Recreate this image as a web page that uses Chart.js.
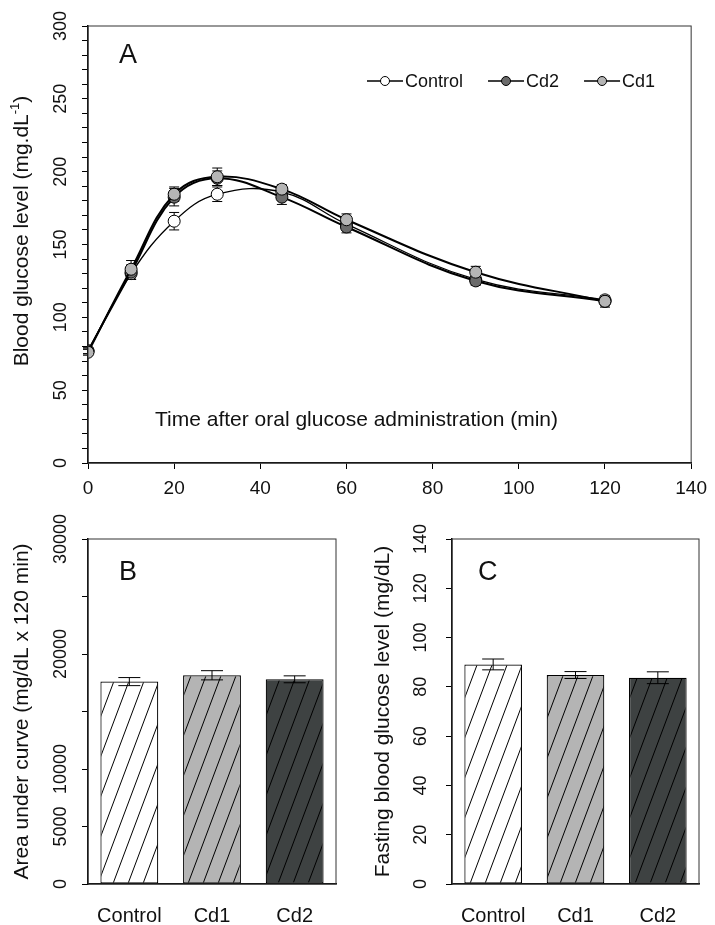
<!DOCTYPE html>
<html>
<head>
<meta charset="UTF-8" />
<script src="https://cdn.jsdelivr.net/npm/chart.js"></script>
<style>
  body { margin: 0; background: #fff; }
  .box { position: absolute; }
</style>
</head>
<body>
<div class="box" style="left:0;top:0;width:715px;height:505px"><canvas id="chartA"></canvas></div>
<div class="box" style="left:0;top:505px;width:357px;height:420px"><canvas id="chartB"></canvas></div>
<div class="box" style="left:357px;top:505px;width:358px;height:420px"><canvas id="chartC"></canvas></div>
<script>
const FONT = "'Liberation Sans', Arial, sans-serif";

// panel A: glucose tolerance curve
const times = [0, 10, 20, 30, 45, 60, 90, 120];
const control = [77, 130, 166, 184.5, 186, 164, 126, 112];
const controlErr = [2, 4, 6, 5, 4, 4, 3, 3];
const cd2 = [77, 131, 182.5, 195.5, 182.5, 162, 125, 111];
const cd2Err = [2, 5, 6, 5, 5, 4, 3, 3];
const cd1 = [76, 133, 184.5, 196.5, 188, 167, 131, 111];
const cd1Err = [2, 6, 5, 6, 3, 4, 4, 4];
const xTicksA = [0, 20, 40, 60, 80, 100, 120, 140];
const yTicksA = [0, 50, 100, 150, 200, 250, 300];

// panels B and C
const groups = ["Control", "Cd1", "Cd2"];
const auc = [17600, 18150, 17800];
const aucErr = [350, 400, 300];
const aucTicks = [0, 5000, 10000, 20000, 30000];
const fasting = [89.1, 84.8, 83.7];
const fastingErr = [2.2, 1.4, 2.4];
const fastingTicks = [0, 20, 40, 60, 80, 100, 120, 140];
const barColors = ["#ffffff", "#b4b4b4", "#3e4242"];

function hatch(fill) {
  const c = document.createElement("canvas");
  const w = 15, h = 40;
  c.width = w; c.height = h;
  const g = c.getContext("2d");
  g.fillStyle = fill;
  g.fillRect(0, 0, w, h);
  g.strokeStyle = "#000";
  g.lineWidth = 1;
  g.beginPath();
  [-w, 0, w].forEach(dx => {
    g.moveTo(dx - w, 2 * h);
    g.lineTo(dx + 2 * w, -h);
  });
  g.stroke();
  return g.createPattern(c, "repeat");
}

const frame = {
  id: "frame",
  afterDraw(chart) {
    const { ctx, chartArea: a } = chart;
    ctx.save();
    ctx.strokeStyle = "#333";
    ctx.lineWidth = 1;
    ctx.strokeRect(a.left, a.top, a.right - a.left, a.bottom - a.top);
    ctx.restore();
  }
};

function drawErr(chart, opts) {
  const ctx = chart.ctx, ys = chart.scales.y;
  ctx.save();
  ctx.strokeStyle = "#000";
  ctx.lineWidth = 1;
  chart.data.datasets.forEach((ds, i) => {
    const meta = chart.getDatasetMeta(i);
    meta.data.forEach((el, j) => {
      const v = ds.data[j];
      const val = typeof v === "object" ? v.y : v;
      const e = opts.errors[i][j];
      const top = ys.getPixelForValue(val + e), bot = ys.getPixelForValue(val - e);
      ctx.beginPath();
      ctx.moveTo(el.x, top); ctx.lineTo(el.x, bot);
      ctx.moveTo(el.x - opts.cap, top); ctx.lineTo(el.x + opts.cap, top);
      ctx.moveTo(el.x - opts.cap, bot); ctx.lineTo(el.x + opts.cap, bot);
      ctx.stroke();
    });
  });
  ctx.restore();
}

const errBars = {
  id: "errbars",
  beforeDatasetsDraw(chart, args, opts) { if (!opts.after) drawErr(chart, opts); },
  afterDatasetsDraw(chart, args, opts) { if (opts.after) drawErr(chart, opts); }
};

// rotated y tick labels, y title, panel letter, free texts
const decor = {
  id: "decor",
  afterDraw(chart, args, opts) {
    const ctx = chart.ctx, ys = chart.scales.y, a = chart.chartArea;
    ctx.save();
    ctx.fillStyle = "#111";
    ctx.textAlign = "center";
    ctx.textBaseline = "middle";
    ctx.font = `18px ${FONT}`;
    opts.yTicks.forEach(v => {
      ctx.save();
      ctx.translate(opts.tickX, ys.getPixelForValue(v));
      ctx.rotate(-Math.PI / 2);
      ctx.fillText(String(v), 0, 0);
      ctx.restore();
    });
    // axis title, optional superscript part
    const parts = opts.title;
    ctx.font = `21px ${FONT}`;
    const w0 = ctx.measureText(parts[0]).width;
    ctx.font = `13px ${FONT}`;
    const w1 = parts[1] ? ctx.measureText(parts[1]).width : 0;
    ctx.font = `21px ${FONT}`;
    const w2 = parts[2] ? ctx.measureText(parts[2]).width : 0;
    const total = w0 + w1 + w2;
    const ty = opts.titleY != null ? opts.titleY : (a.top + a.bottom) / 2;
    ctx.save();
    ctx.translate(opts.titleX, ty);
    ctx.rotate(-Math.PI / 2);
    ctx.textAlign = "left";
    ctx.fillText(parts[0], -total / 2, 0);
    if (parts[1]) {
      ctx.font = `13px ${FONT}`;
      ctx.fillText(parts[1], -total / 2 + w0, -7);
      ctx.font = `21px ${FONT}`;
      ctx.fillText(parts[2], -total / 2 + w0 + w1, 0);
    }
    ctx.restore();
    ctx.font = `27px ${FONT}`;
    ctx.textAlign = "left";
    ctx.textBaseline = "alphabetic";
    ctx.fillText(opts.letter, opts.letterX, opts.letterY);
    (opts.texts || []).forEach(t => {
      ctx.font = `${t.size}px ${FONT}`;
      ctx.fillText(t.text, t.x, t.y);
    });
    ctx.restore();
  }
};

const legendA = {
  id: "legendA",
  afterDraw(chart, args, opts) {
    const ctx = chart.ctx;
    let x = opts.x;
    const y = opts.y;
    ctx.save();
    ctx.font = `18px ${FONT}`;
    ctx.textBaseline = "middle";
    ctx.fillStyle = "#111";
    chart.data.datasets.forEach(ds => {
      ctx.strokeStyle = "#000";
      ctx.lineWidth = 1.3;
      ctx.beginPath();
      ctx.moveTo(x, y); ctx.lineTo(x + 36, y);
      ctx.stroke();
      ctx.beginPath();
      ctx.arc(x + 18, y, 4.5, 0, Math.PI * 2);
      ctx.fillStyle = ds.pointBackgroundColor;
      ctx.fill();
      ctx.lineWidth = 1;
      ctx.stroke();
      ctx.fillStyle = "#111";
      ctx.fillText(ds.label, x + 38, y + 1);
      x += 38 + ctx.measureText(ds.label).width + 25;
    });
    ctx.restore();
  }
};

function lineSet(label, values, fill, width, order) {
  return {
    label,
    order,
    data: times.map((t, i) => ({ x: t, y: values[i] })),
    borderColor: "#000",
    borderWidth: width,
    tension: 0.4,
    pointRadius: 6,
    pointBackgroundColor: fill,
    pointBorderColor: "#000",
    pointBorderWidth: 1
  };
}

const axisGrid = { drawOnChartArea: false, tickLength: 6, color: "#000", tickWidth: 1 };
const axisBorder = { color: "#000", width: 1.5 };

new Chart(document.getElementById("chartA"), {
  type: "line",
  data: {
    datasets: [
      lineSet("Control", control, "#ffffff", 1.3, 3),
      lineSet("Cd2", cd2, "#6b6b6b", 2, 2),
      lineSet("Cd1", cd1, "#b5b5b5", 2, 1)
    ]
  },
  options: {
    responsive: true,
    maintainAspectRatio: false,
    animation: false,
    layout: { padding: { left: 0, top: 26, right: 17, bottom: 0 } },
    scales: {
      x: {
        type: "linear", min: 0, max: 140,
        afterFit: s => { s.height = 42; },
        afterBuildTicks: s => { s.ticks = xTicksA.map(v => ({ value: v })); },
        grid: axisGrid, border: axisBorder,
        ticks: { color: "#111", font: { family: FONT, size: 19 }, padding: 8, maxRotation: 0, autoSkip: false }
      },
      y: {
        min: 0, max: 300,
        afterFit: s => { s.width = 88; },
        grid: axisGrid, border: axisBorder,
        ticks: { stepSize: 10, autoSkip: false, callback: () => "" }
      }
    },
    plugins: {
      legend: { display: false },
      tooltip: { enabled: false },
      errbars: { errors: [controlErr, cd2Err, cd1Err], cap: 5, after: false },
      decor: {
        yTicks: yTicksA, tickX: 61,
        title: ["Blood glucose level (mg.dL", "-1", ")"], titleX: 22, titleY: 231,
        letter: "A", letterX: 119, letterY: 63,
        texts: [{ text: "Time after oral glucose administration (min)", x: 155, y: 426, size: 21 }]
      },
      legendA: { x: 367, y: 81 }
    }
  },
  plugins: [errBars, frame, decor, legendA]
});

function barChart(id, values, errs, max, step, ticks, title, tickX, titleX, padLeftWidth, padRight) {
  return new Chart(document.getElementById(id), {
    type: "bar",
    data: {
      labels: groups,
      datasets: [{
        data: values,
        backgroundColor: barColors.map(hatch),
        borderColor: "#000",
        borderWidth: 1.2,
        borderSkipped: false,
        barPercentage: 0.7,
        categoryPercentage: 1
      }]
    },
    options: {
      responsive: true,
      maintainAspectRatio: false,
      animation: false,
      layout: { padding: { left: 0, top: 34, right: padRight, bottom: 0 } },
      scales: {
        x: {
          afterFit: s => { s.height = 41; },
          grid: { drawOnChartArea: false, drawTicks: false },
          border: axisBorder,
          ticks: { color: "#111", font: { family: FONT, size: 20 }, padding: 20 }
        },
        y: {
          min: 0, max: max,
          afterFit: s => { s.width = padLeftWidth; },
          grid: axisGrid, border: axisBorder,
          ticks: { stepSize: step, autoSkip: false, callback: () => "" }
        }
      },
      plugins: {
        legend: { display: false },
        tooltip: { enabled: false },
        errbars: { errors: [errs], cap: 11, after: true },
        decor: {
          yTicks: ticks, tickX: tickX,
          title: [title], titleX: titleX,
          letter: id === "chartB" ? "B" : "C", letterX: id === "chartB" ? 119 : 121, letterY: 75
        }
      }
    },
    plugins: [errBars, frame, decor]
  });
}

barChart("chartB", auc, aucErr, 30000, 5000, aucTicks, "Area under curve (mg/dL x 120 min)", 61, 22, 88, 21);
barChart("chartC", fasting, fastingErr, 140, 20, fastingTicks, "Fasting blood glucose level (mg/dL)", 64, 26, 95, 16);
</script>
</body>
</html>
